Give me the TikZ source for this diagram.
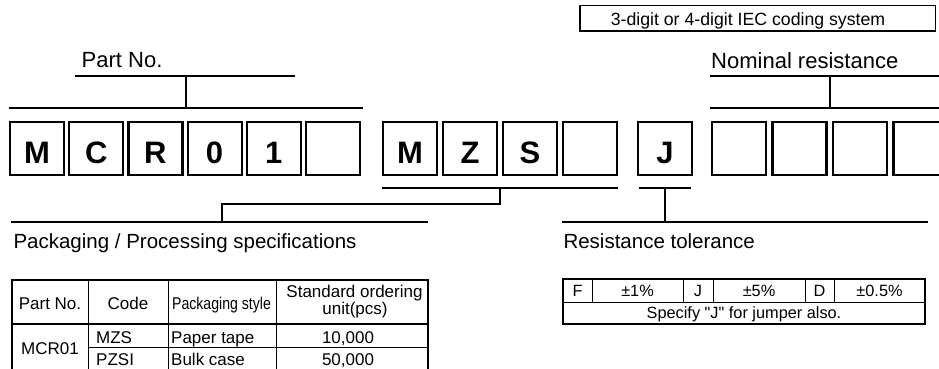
\documentclass[tikz,border=0pt]{standalone}
\usepackage{fontspec}
\usepackage{graphicx}
\setmainfont{Liberation Sans}[Ligatures=TeXOff]
\begin{document}
\begin{tikzpicture}[x=1pt,y=-1pt,
  conn/.style={line width=2.2pt},
  digit/.style={draw, line width=2.2pt, minimum width=54pt, minimum height=53pt, inner sep=0pt,
    text height=29.6pt, text depth=0pt, font=\fontsize{31}{31}\bfseries\selectfont},
  toplbl/.style={anchor=base west, inner sep=0pt, font=\fontsize{22}{24}\selectfont},
  botlbl/.style={anchor=base west, inner sep=0pt, font=\fontsize{20.5}{24}\selectfont},
  tcell/.style={anchor=base, inner sep=0pt, font=\fontsize{17}{19}\selectfont},
  tcellw/.style={anchor=base west, inner sep=0pt, font=\fontsize{17}{19}\selectfont},
  rcell/.style={anchor=base, inner sep=0pt, font=\fontsize{16.3}{19}\selectfont},
  outer/.style={line width=2.5pt},
  inner/.style={line width=0.9pt}]
\useasboundingbox (0,0) rectangle (939,369);

% IEC box
\node[draw, line width=1.5pt, minimum width=355.5pt, minimum height=25.5pt, inner sep=0pt] (iec) at (757.5,18.5) {};
\node[anchor=base, inner sep=0pt, font=\fontsize{17.7}{20}\selectfont] (iect) at (748,26) {3-digit or 4-digit IEC coding system};

% top labels
\node[toplbl] (pn) at (81.5,67) {Part No.};
\node[toplbl] (nr) at (711,68) {Nominal resistance};

% digit boxes
\foreach \l [count=\i from 0] in {M,C,R,0,1,{}} {
  \node[digit] (a\i) at (37+59.2*\i,148.5) {\l};
}
\foreach \l [count=\i from 0] in {M,Z,S,{}} {
  \node[digit] (b\i) at (410+60*\i,148.5) {\l};
}
\node[digit] (j) at (665,148.5) {J};
\foreach \i in {0,...,3} {
  \node[digit] (c\i) at (739+60.5*\i,148.5) {};
}

% Part No connectors
\coordinate (pnl) at (75,76);
\coordinate (pnr) at (295,76);
\coordinate (pnm) at (186,76);
\coordinate (pnd) at (186,108);
\coordinate (pgl) at (9,108);
\coordinate (pgr) at (363,108);
\draw[conn] (pnl) -- (pnr);
\draw[conn] (pnm) -- (pnd);
\draw[conn] (pgl) -- (pgr);

% Nominal resistance connectors
\coordinate (nrl) at (710,76);
\coordinate (nrr) at (945,76);
\coordinate (nrm) at (830,76);
\coordinate (nrd) at (830,108);
\coordinate (ngl) at (710,108);
\coordinate (ngr) at (945,108);
\draw[conn] (nrl) -- (nrr);
\draw[conn] (nrm) -- (nrd);
\draw[conn] (ngl) -- (ngr);

% Packaging connectors
\coordinate (mzl) at (382,188);
\coordinate (mzr) at (618,188);
\coordinate (mzm) at (500,188);
\coordinate (brk) at (222,204);
\coordinate (pkm) at (222,222);
\coordinate (pkl) at (11,222);
\coordinate (pkr) at (428,222);
\draw[conn] (mzl) -- (mzr);
\draw[conn] (mzm) |- (brk) -- (pkm);
\draw[conn] (pkl) -- (pkr);

% Tolerance connectors
\coordinate (jl) at (639,188);
\coordinate (jr) at (691,188);
\coordinate (jm) at (665,188);
\coordinate (jd) at (665,222);
\coordinate (tl) at (562,222);
\coordinate (tr) at (928,222);
\draw[conn] (jl) -- (jr);
\draw[conn] (jm) -- (jd);
\draw[conn] (tl) -- (tr);

% bottom labels
\node[botlbl] (pk) at (13.3,248.3) {Packaging / Processing specifications};
\node[botlbl] (rt) at (563.3,248.3) {Resistance tolerance};

% Packaging table
\draw[inner] (88,280) -- (88,372);
\draw[inner] (168,280) -- (168,372);
\draw[inner] (276,280) -- (276,372);
\draw[inner] (88,347) -- (428,347);
\draw[line width=2pt] (12,324) -- (428,324);
\draw[outer] (12,372) -- (12,280) -- (428,280) -- (428,372);
\node[tcell] (h1) at (50,309.5) {Part No.};
\node[tcell] (h2) at (128,309.5) {Code};
\node[tcell] (h3) at (221.5,309.5) {\scalebox{0.83}[1]{Packaging style}};
\node[tcell] (h4a) at (354.5,297) {Standard ordering};
\node[tcell] (h4b) at (355,314) {unit(pcs)};
\node[tcell] (m1) at (50,354) {MCR01};
\node[tcellw] (m2) at (96,343) {MZS};
\node[tcellw] (m3) at (96,365.7) {PZSI};
\node[tcellw] (m4) at (171,343) {Paper tape};
\node[tcellw] (m5) at (171,365.7) {Bulk case};
\node[tcell] (m6) at (348,343) {10,000};
\node[tcell] (m7) at (348,365.7) {50,000};

% Tolerance table
\foreach \x in {592,683,713,805,834} { \draw[inner] (\x,279) -- (\x,302); }
\draw[inner] (563,302) -- (925,302);
\draw[outer] (563,279) rectangle (925,324);
\node[rcell] (t1) at (577.5,296.8) {F};
\node[rcell] (t2) at (637.5,296.8) {±1\%};
\node[rcell] (t3) at (698,296.8) {J};
\node[rcell] (t4) at (759,296.8) {±5\%};
\node[rcell] (t5) at (819.5,296.8) {D};
\node[rcell] (t6) at (879.5,296.8) {±0.5\%};
\node[rcell] (t7) at (744,318.3) {Specify "J" for jumper also.};
\end{tikzpicture}
\end{document}
